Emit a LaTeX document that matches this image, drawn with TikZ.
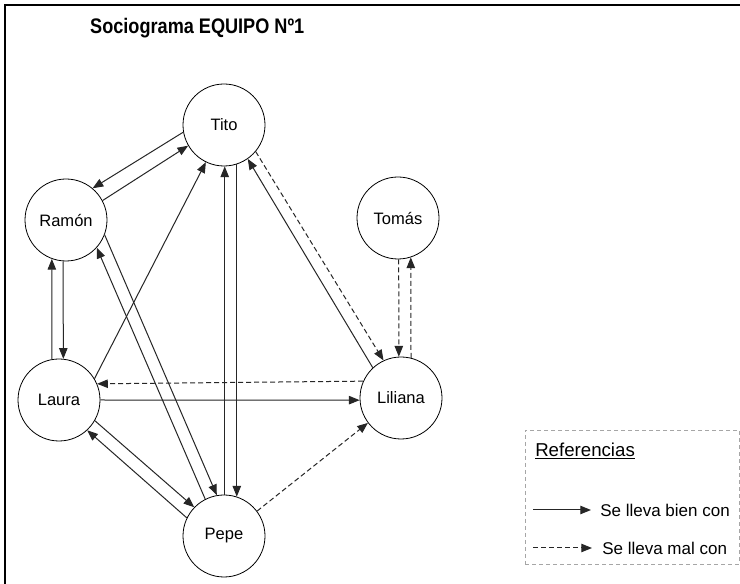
\documentclass[tikz,border=0pt]{standalone}
\usepackage{fontspec}
\setmainfont{Liberation Sans}
\usetikzlibrary{arrows.meta}
\begin{document}
\begin{tikzpicture}[x=0.75pt,y=-0.75pt,
  person/.style={circle,draw=black,line width=0.6pt,minimum size=61.5pt,inner sep=0pt,fill=white,font=\fontsize{12.4}{14}\selectfont},
  good/.style={draw=black!85,line width=0.75pt,-{Triangle[length=8pt,width=6.3pt]}},
  bad/.style={good,dash pattern=on 3.75pt off 2.25pt},
  txt/.style={inner sep=0pt,anchor=west,font=\fontsize{12.75}{15}\selectfont}]
\useasboundingbox (0,0) rectangle (740,584);
\clip (0,0) rectangle (740,584);
\fill[white] (0,0) rectangle (740,584);
\draw[line width=1.5pt] (5,5) rectangle (800,650);

\node[inner sep=0pt,anchor=west,xscale=0.86,font=\bfseries\fontsize{15.8}{18}\selectfont] (title) at (90,28) {Sociograma EQUIPO Nº1};

% people
\node[person] (T) at (224,125) {Tito};
\node[person] (R) at (66,220) {Ramón};
\node[person] (L) at (59,400) {Laura};
\node[person] (Li) at (401,398) {Liliana};
\node[person] (To) at (398,218) {Tomás};
\node[person] (P) at (224,536) {Pepe};

% Tito - Ramón
\draw[good] (R.28) -- (T.210);
\draw[good] (T.190) -- (R.50);
% Laura -> Tito
\draw[good] (L.31) -- (T.244);
% Pepe - Tito
\draw[good] (P.89) -- (T.271);
\draw[good] (T.288) -- (P.72);
% Laura - Ramón
\draw[good] (L.100) -- (R.250);
\draw[good] (R.266) -- (L.84);
% Ramón - Pepe
\draw[good] (R.339) -- (P.100);
\draw[good] (P.117) -- (R.318);
% Laura - Pepe
\draw[good] (L.330) -- (P.136);
\draw[good] (P.154) -- (L.313);
% Laura - Liliana
\draw[good] (L.0) -- (Li.183);
\draw[bad] (Li.156) -- (L.23);
% Tito - Liliana
\draw[bad] (T.320) -- (Li.115);
\draw[good] (Li.133) -- (T.305);
% Tomás - Liliana
\draw[bad] (To.271) -- (Li.93);
\draw[bad] (Li.76) -- (To.288);
% Pepe -> Liliana
\draw[bad] (P.37) -- (Li.217);

% legend
\node[draw=gray!70,dash pattern=on 3pt off 2.25pt,line width=0.6pt,minimum width=160.5pt,minimum height=100.5pt,inner sep=0pt] (legend) at (632,497) {};
\node[inner sep=0pt,anchor=west,font=\fontsize{14}{16}\selectfont] (ref) at (535,451) {\underline{Referencias}};
\coordinate (g1) at (533,510);
\coordinate (g2) at (591,510);
\draw[good] (g1) -- (g2);
\node[txt] (gt) at (600,510) {Se lleva bien con};
\coordinate (b1) at (533,548);
\coordinate (b2) at (592,548);
\draw[bad] (b1) -- (b2);
\node[txt] (bt) at (602,548) {Se lleva mal con};
\end{tikzpicture}
\end{document}
